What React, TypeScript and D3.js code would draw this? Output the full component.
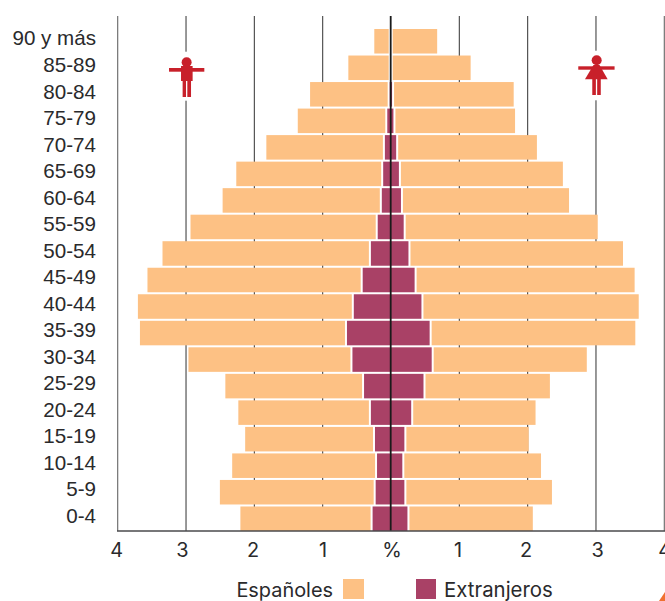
import React from "react";
import * as d3 from "d3";

const grupos = ["90 y más","85-89","80-84","75-79","70-74","65-69","60-64","55-59","50-54","45-49","40-44","35-39","30-34","25-29","20-24","15-19","10-14","5-9","0-4"];
const totalHombres = [0.24,0.62,1.18,1.36,1.82,2.26,2.46,2.93,3.34,3.56,3.70,3.67,2.96,2.42,2.23,2.13,2.32,2.50,2.20];
const extranjerosHombres = [0.0,0.0,0.015,0.05,0.085,0.11,0.13,0.19,0.29,0.41,0.54,0.64,0.56,0.39,0.29,0.23,0.20,0.22,0.265];
const totalMujeres = [0.68,1.17,1.80,1.82,2.14,2.52,2.61,3.03,3.40,3.57,3.63,3.58,2.87,2.33,2.12,2.02,2.20,2.36,2.08];
const extranjerasMujeres = [0.0,0.0,0.02,0.04,0.08,0.12,0.15,0.19,0.26,0.35,0.45,0.57,0.60,0.48,0.30,0.20,0.17,0.20,0.245];
const ticks = [-4,-3,-2,-1,1,2,3,4];
const FONT = "Inter, sans-serif";
const LABEL_FONT = "'Liberation Sans', Arial, sans-serif";
const ORANGE = "#fdc184";
const PURPLE = "#a94166";
const RED = "#c8202a";
const INK = "#2a2a2c";
const FS = 19.9;
const tickNudge: Record<number, number> = { [-4]: -1, [-3]: -3.7, [-2]: -1.3, [-1]: 0.3, 1: -1.3, 2: -1.6, 3: 1.6, 4: 0.5 };

export default function App() {
  const x = d3.scaleLinear().domain([-4, 4]).range([117.7, 664.3]);
  const y = d3.scaleBand<string>().domain(grupos).range([28, 532]);
  const c = x(0) - 0.3;
  const h = y.bandwidth() - 2;
  const gap = 2;
  const fx = (v: number) => x(v) - 0.3;
  return (
    <svg width={665} height={601} viewBox="0 0 665 601" style={{ position: "fixed", left: 0, top: 0, display: "block", fontFamily: FONT }}>
      <rect width={665} height={601} fill="#fff" />
      {ticks.map((t) => (
        <line key={t} x1={x(t)} x2={x(t)} y1={16} y2={531} stroke={Math.abs(t) === 4 ? "#666" : "#444"} strokeWidth={1.1} />
      ))}
      {grupos.map((g, i) => {
        const yy = y(g)! + 1;
        const fl = fx(-extranjerosHombres[i]);
        const fr = fx(extranjerasMujeres[i]);
        const tl = fx(-totalHombres[i]);
        const tr = fx(totalMujeres[i]);
        return (
          <g key={g}>
            <rect x={tl} y={yy} width={Math.max(0, fl - gap - tl)} height={h} fill={ORANGE} />
            <rect x={fr + gap} y={yy} width={Math.max(0, tr - fr - gap)} height={h} fill={ORANGE} />
            <rect x={fl} y={yy} width={fr - fl} height={h} fill={extranjerosHombres[i] + extranjerasMujeres[i] > 0 ? PURPLE : "none"} />
            <text x={96} y={yy + h / 2 + 4.2} textAnchor="end" fontSize={20.6} fontFamily={LABEL_FONT} fill={INK}>{g}</text>
          </g>
        );
      })}
      <line x1={c} x2={c} y1={16} y2={531} stroke="#1a1a1a" strokeWidth={1.8} />
      <line x1={117} x2={665} y1={531} y2={531} stroke="#4a4a4c" strokeWidth={1.4} />
      {ticks.map((t) => (
        <text key={t} x={x(t) + tickNudge[t]} y={557} textAnchor="middle" fontSize={FS} fill={INK}>{Math.abs(t)}</text>
      ))}
      <text x={392} y={557} textAnchor="middle" fontSize={FS} fill={INK}>%</text>
      <text x={333} y={597} textAnchor="end" fontSize={FS} fill={INK}>Españoles</text>
      <rect x={343} y={579} width={21} height={20} fill={ORANGE} />
      <rect x={416} y={579} width={20} height={20} fill={PURPLE} />
      <text x={444} y={597} fontSize={20.4} fill={INK}>Extranjeros</text>
      <path d="M665,592 L665,601 L659,601 Z" fill="#f07030" />
      <g transform={`translate(${x(-3)},0)`} fill={RED}>
        <rect x={-8} y={51.7} width={16} height={49} fill="#fff" />
        <circle cx={0.6} cy={62.3} r={5} />
        <rect x={-17} y={68} width={35.3} height={3.7} />
        <rect x={-5} y={66} width={11.6} height={15} />
        <rect x={-3.4} y={80} width={3.4} height={17} />
        <rect x={1.3} y={80} width={3.7} height={17} />
      </g>
      <g transform={`translate(${x(3)},0)`} fill={RED}>
        <rect x={-9} y={50.7} width={18} height={49.6} fill="#fff" />
        <circle cx={0.7} cy={60.3} r={5} />
        <rect x={-17.7} y={66.3} width={36.3} height={3.4} />
        <path d="M-2.5,65 L3.5,65 L11.7,79.3 L-11,79.3 Z" />
        <rect x={-3.7} y={79} width={3.6} height={16} />
        <rect x={1.2} y={79} width={3.6} height={16} />
      </g>
    </svg>
  );
}
